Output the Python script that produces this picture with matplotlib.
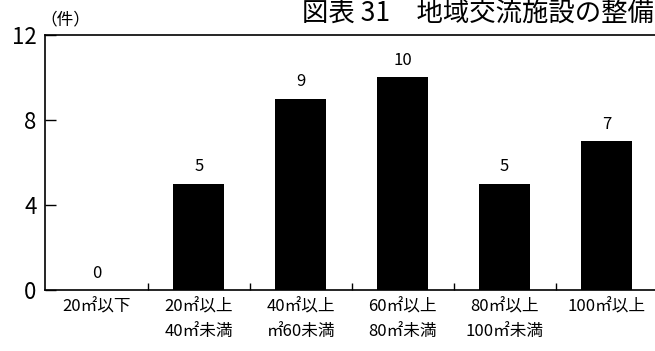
import matplotlib
matplotlib.use('Agg')
import matplotlib.pyplot as plt
import numpy as np

plt.rcParams['font.family'] = ['Noto Sans CJK JP', 'DejaVu Sans']

# data
categories = ['20㎡以下', '20㎡以上\n40㎡未満', '40㎡以上\n㎡60未満',
              '60㎡以上\n80㎡未満', '80㎡以上\n100㎡未満', '100㎡以上']
counts = [0, 5, 9, 10, 5, 7]
y_ticks = [0, 4, 8, 12]

fig = plt.figure(figsize=(6.55, 3.51), dpi=100)
ax = fig.add_axes([0.0687, 0.1738, 0.935, 0.7265])

x = np.arange(len(categories))
ax.bar(x, counts, width=0.5, color='black', zorder=3)

# value labels over the bars
for xi, v in zip(x, counts):
    ax.annotate(str(v), (xi, v), xytext=(0, 6), textcoords='offset points',
                ha='center', va='bottom', fontsize=12)

ax.set_xlim(-0.51, 5.5)
ax.set_ylim(0, 12)
ax.set_yticks(y_ticks)
ax.set_yticklabels([str(t) for t in y_ticks], fontsize=16)
ax.tick_params(axis='y', direction='in', length=8, width=1, pad=6)

ax.set_xticks(x)
ax.set_xticklabels(categories, fontsize=12, linespacing=1.6)
ax.tick_params(axis='x', which='major', length=0, pad=6)
ax.set_xticks(x[:-1] + 0.5, minor=True)
ax.tick_params(axis='x', which='minor', direction='in', length=5, width=1)

for s in ['left', 'top', 'bottom']:
    ax.spines[s].set_linewidth(1.2)
ax.spines['right'].set_visible(False)

fig.text(0.1, 0.943, '（件）', fontsize=12, ha='center', va='center')
fig.text(0.998, 0.963, '図表 31　地域交流施設の整備', fontsize=19, ha='right', va='center')

fig.savefig('out.png', dpi=100)
